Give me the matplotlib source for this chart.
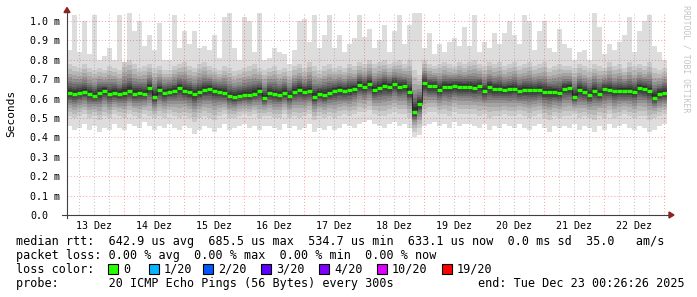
import numpy as np
import matplotlib
matplotlib.use("Agg")
import matplotlib.pyplot as plt
from matplotlib.patches import Rectangle, Polygon
from matplotlib.lines import Line2D

# smokeping data, 2h steps, values in ms (20 pings per step)
median_ms = [
    0.63, 0.625, 0.63, 0.635, 0.625, 0.615, 0.63, 0.64, 0.625, 0.63, 0.625, 0.63, 0.64, 0.625, 0.63, 0.625, 0.655, 0.61, 0.645, 0.63,
    0.635, 0.64, 0.655, 0.64, 0.635, 0.625, 0.635, 0.645, 0.65, 0.64, 0.635, 0.63, 0.615, 0.61, 0.615, 0.62, 0.62, 0.625, 0.64, 0.605,
    0.63, 0.625, 0.62, 0.63, 0.615, 0.635, 0.645, 0.635, 0.64, 0.61, 0.625, 0.62, 0.63, 0.64, 0.645, 0.64, 0.645, 0.65, 0.67, 0.66,
    0.675, 0.645, 0.655, 0.665, 0.66, 0.675, 0.66, 0.665, 0.635, 0.53, 0.57, 0.68, 0.665, 0.665, 0.645, 0.66, 0.66, 0.665, 0.66, 0.66,
    0.66, 0.655, 0.665, 0.64, 0.66, 0.65, 0.65, 0.645, 0.648, 0.652, 0.64, 0.645, 0.645, 0.642, 0.645, 0.635, 0.635, 0.632, 0.63, 0.652,
    0.655, 0.61, 0.645, 0.635, 0.62, 0.64, 0.625, 0.65, 0.645, 0.637, 0.64, 0.64, 0.64, 0.635, 0.655, 0.65, 0.64, 0.605, 0.625, 0.63,
]
max_ms = [
    0.85, 1.03, 0.84, 1.0, 0.83, 1.03, 0.80, 0.82, 0.86, 0.80, 1.03, 0.78, 1.04, 0.95, 1.0, 0.87, 0.93, 0.85, 0.99, 0.80,
    0.80, 1.03, 0.86, 0.95, 0.88, 0.95, 0.86, 0.87, 0.85, 0.93, 0.81, 1.02, 1.04, 0.86, 0.80, 1.02, 1.0, 0.84, 1.04, 0.80,
    0.81, 0.86, 0.84, 0.83, 0.78, 0.85, 1.0, 1.01, 0.89, 1.03, 0.86, 0.93, 1.03, 0.86, 0.93, 0.84, 0.88, 0.91, 1.03, 0.92,
    0.96, 0.86, 0.90, 0.98, 0.84, 0.95, 1.03, 0.88, 0.98, 1.04, 1.04, 0.86, 0.94, 0.83, 0.88, 0.84, 0.89, 0.91, 0.87, 0.97,
    0.87, 1.03, 0.84, 0.89, 0.86, 0.94, 0.88, 0.94, 1.0, 0.93, 0.88, 1.03, 1.0, 0.85, 0.95, 1.0, 0.86, 0.84, 0.96, 0.88,
    0.86, 0.80, 0.84, 0.85, 0.80, 1.04, 0.97, 0.83, 0.88, 0.85, 0.89, 0.93, 1.02, 0.84, 0.95, 1.0, 1.03, 0.87, 0.84, 0.80,
]
min_ms = [
    0.46, 0.44, 0.45, 0.47, 0.44, 0.46, 0.43, 0.45, 0.44, 0.47, 0.45, 0.44, 0.47, 0.46, 0.45, 0.48, 0.46, 0.44, 0.46, 0.45,
    0.47, 0.45, 0.44, 0.46, 0.45, 0.42, 0.44, 0.46, 0.45, 0.43, 0.45, 0.47, 0.44, 0.45, 0.46, 0.47, 0.45, 0.46, 0.44, 0.46,
    0.46, 0.45, 0.44, 0.47, 0.45, 0.46, 0.44, 0.45, 0.47, 0.43, 0.45, 0.44, 0.46, 0.44, 0.45, 0.47, 0.46, 0.45, 0.47, 0.48,
    0.49, 0.47, 0.46, 0.45, 0.47, 0.48, 0.46, 0.47, 0.45, 0.40, 0.41, 0.46, 0.47, 0.48, 0.46, 0.47, 0.45, 0.48, 0.46, 0.47,
    0.47, 0.46, 0.45, 0.47, 0.44, 0.46, 0.45, 0.47, 0.46, 0.45, 0.47, 0.45, 0.44, 0.46, 0.47, 0.45, 0.43, 0.46, 0.45, 0.46,
    0.45, 0.47, 0.44, 0.46, 0.45, 0.43, 0.46, 0.44, 0.47, 0.45, 0.46, 0.47, 0.45, 0.44, 0.46, 0.45, 0.43, 0.44, 0.46, 0.47,
]
# 2nd lowest and 2nd highest ping
p2_ms = [
    0.51, 0.50, 0.51, 0.52, 0.50, 0.51, 0.49, 0.51, 0.50, 0.52, 0.51, 0.50, 0.52, 0.51, 0.50, 0.52, 0.51, 0.50, 0.51, 0.50,
    0.52, 0.51, 0.50, 0.51, 0.50, 0.48, 0.50, 0.51, 0.50, 0.49, 0.51, 0.52, 0.50, 0.50, 0.51, 0.52, 0.51, 0.52, 0.50, 0.51,
    0.51, 0.50, 0.50, 0.52, 0.50, 0.51, 0.50, 0.51, 0.52, 0.49, 0.51, 0.50, 0.51, 0.50, 0.51, 0.52, 0.51, 0.52, 0.53, 0.53,
    0.54, 0.52, 0.51, 0.51, 0.52, 0.53, 0.52, 0.52, 0.50, 0.43, 0.45, 0.52, 0.53, 0.53, 0.52, 0.52, 0.51, 0.53, 0.52, 0.52,
    0.52, 0.52, 0.51, 0.52, 0.50, 0.51, 0.51, 0.52, 0.51, 0.51, 0.52, 0.51, 0.50, 0.51, 0.52, 0.50, 0.49, 0.51, 0.50, 0.51,
    0.51, 0.52, 0.50, 0.51, 0.50, 0.49, 0.51, 0.50, 0.52, 0.50, 0.51, 0.52, 0.51, 0.50, 0.51, 0.51, 0.49, 0.50, 0.51, 0.52,
]
p19_ms = [
    0.78, 0.77, 0.76, 0.78, 0.76, 0.75, 0.76, 0.75, 0.77, 0.76, 0.75, 0.79, 0.80, 0.78, 0.76, 0.77, 0.78, 0.76, 0.77, 0.75,
    0.75, 0.77, 0.78, 0.79, 0.77, 0.76, 0.78, 0.79, 0.77, 0.76, 0.75, 0.77, 0.76, 0.74, 0.75, 0.76, 0.77, 0.78, 0.76, 0.75,
    0.76, 0.77, 0.75, 0.76, 0.74, 0.77, 0.78, 0.76, 0.79, 0.77, 0.75, 0.77, 0.78, 0.76, 0.77, 0.76, 0.78, 0.77, 0.79, 0.78,
    0.80, 0.78, 0.79, 0.80, 0.78, 0.79, 0.80, 0.78, 0.80, 0.75, 0.72, 0.80, 0.78, 0.77, 0.78, 0.79, 0.78, 0.77, 0.79, 0.78,
    0.79, 0.80, 0.78, 0.77, 0.79, 0.78, 0.79, 0.77, 0.78, 0.79, 0.77, 0.78, 0.79, 0.77, 0.78, 0.79, 0.76, 0.77, 0.78, 0.77,
    0.77, 0.76, 0.78, 0.77, 0.76, 0.78, 0.77, 0.76, 0.79, 0.77, 0.78, 0.76, 0.79, 0.77, 0.78, 0.77, 0.79, 0.76, 0.75, 0.76,
]

day_labels = ["13 Dez", "14 Dez", "15 Dez", "16 Dez", "17 Dez", "18 Dez", "19 Dez", "20 Dez", "21 Dez", "22 Dez"]
y_ticks = [0.0, 0.1, 0.2, 0.3, 0.4, 0.5, 0.6, 0.7, 0.8, 0.9, 1.0]
y_labels = ["0.0", "0.1 m", "0.2 m", "0.3 m", "0.4 m", "0.5 m", "0.6 m", "0.7 m", "0.8 m", "0.9 m", "1.0 m"]
loss_labels = ["0", "1/20", "2/20", "3/20", "4/20", "10/20", "19/20"]
loss_colors = ["#26ff00", "#00b8ff", "#0059ff", "#5e00ff", "#7e00ff", "#dd00ff", "#ff0000"]

MONO = "DejaVu Sans Mono"
W, H = 697, 297
fig = plt.figure(figsize=(W / 100, H / 100), dpi=100)
fig.patch.set_facecolor("white")

def fx(x):
    return x / W

def fy(y):
    return 1 - y / H

ymax = 1.04
ax = fig.add_axes([fx(67), fy(215), 600 / W, ymax * 194 / H])
ax.set_xlim(13.05, 23.05)
ax.set_ylim(0, ymax)
for s in ax.spines.values():
    s.set_visible(False)

med = np.array(median_ms)
n = len(med)
edges = 13.05 + np.arange(n + 1) / 12.0

def ext(a):
    a = np.asarray(a)
    return np.append(a, a[-1])

# smoke: outer band min..max, then nested bands toward the median
ax.fill_between(edges, ext(min_ms), ext(max_ms), step="post", color="#dddddd", lw=0, antialiased=False, zorder=1)
frac = [1.0, 0.82, 0.66, 0.53, 0.42, 0.33, 0.25, 0.18, 0.11]
p2 = np.array(p2_ms)
p19 = np.array(p19_ms)
for k, f in zip(range(2, 11), frac):
    c = int(190 / 10 * (10 - k)) + 50
    lo = med - f * (med - p2)
    hi = med + f * (p19 - med)
    ax.fill_between(edges, ext(lo), ext(hi), step="post", color="#%02x%02x%02x" % (c, c, c),
                    lw=0, antialiased=False, zorder=1)

# grid
for q in np.arange(13.25, 23.06, 0.25):
    if abs(q - round(q)) > 1e-6:
        ax.axvline(q, color=(0.5, 0.5, 0.5, 0.45), lw=0.75, ls=(0, (1, 2)), zorder=3)
for d in range(14, 24):
    ax.axvline(d, color=(1, 0, 0, 0.35), lw=0.75, ls=(0, (1, 2)), zorder=3)
for v in y_ticks[1:]:
    ax.axhline(v, color=(1, 0, 0, 0.35), lw=0.75, ls=(0, (1, 2)), zorder=3)

# median line
ax.step(edges, ext(med), where="post", color="#202020", lw=0.6, zorder=4)
ax.hlines(med, edges[:-1], edges[1:], color="#26ff00", lw=2.4, zorder=5)

ax.set_xticks(np.arange(13.5, 23, 1.0))
ax.set_xticklabels(day_labels, fontsize=7.2, family=MONO)
ax.set_yticks(y_ticks)
ax.set_yticklabels(y_labels, fontsize=7.2, family=MONO)
ax.tick_params(axis="x", length=0, pad=4.5)
ax.tick_params(axis="y", length=0, pad=26.5)
for lbl in ax.get_yticklabels():
    lbl.set_horizontalalignment("left")

# axes lines and arrows
axis_col = "#404040"
arrow_col = "#902020"
fig.add_artist(Line2D([fx(62), fx(669)], [fy(215), fy(215)], color=axis_col, lw=0.8))
fig.add_artist(Line2D([fx(67), fx(67)], [fy(218), fy(12)], color=axis_col, lw=0.8))
fig.add_artist(Polygon([(fx(64), fy(12.5)), (fx(70), fy(12.5)), (fx(67), fy(7.5))], closed=True,
                       color=arrow_col, transform=fig.transFigure))
fig.add_artist(Polygon([(fx(669), fy(212)), (fx(669), fy(218)), (fx(674), fy(215))], closed=True,
                       color=arrow_col, transform=fig.transFigure))

fig.text(fx(11), fy(113.5), "Seconds", rotation=90, ha="center", va="center", fontsize=8, family=MONO)
fig.text(fx(686), fy(5), "RRDTOOL / TOBI OETIKER", rotation=270, ha="center", va="top",
         fontsize=5.9, family=MONO, color="#c4c4c4")

# legend
fs = 8.5
fig.text(fx(16), fy(241.5), "median rtt:  642.9 us avg  685.5 us max  534.7 us min  633.1 us now  0.0 ms sd  35.0   am/s",
         ha="left", va="center", fontsize=fs, family=MONO)
fig.text(fx(16), fy(255.5), "packet loss: 0.00 % avg  0.00 % max  0.00 % min  0.00 % now",
         ha="left", va="center", fontsize=fs, family=MONO)
fig.text(fx(16), fy(269.5), "loss color:", ha="left", va="center", fontsize=fs, family=MONO)
sw_x = [108, 149, 203, 261, 319, 377, 442]
for x0, lab, col in zip(sw_x, loss_labels, loss_colors):
    fig.add_artist(Rectangle((fx(x0), fy(274)), 10 / W, 10 / H, facecolor=col, edgecolor="black",
                             lw=0.8, transform=fig.transFigure))
    fig.text(fx(x0 + 15), fy(269.5), lab, ha="left", va="center", fontsize=fs, family=MONO)
fig.text(fx(16), fy(283.5), "probe:       20 ICMP Echo Pings (56 Bytes) every 300s",
         ha="left", va="center", fontsize=fs, family=MONO)
fig.text(fx(478), fy(283.5), "end: Tue Dec 23 00:26:26 2025", ha="left", va="center", fontsize=fs, family=MONO)

fig.savefig("out.png", dpi=100, facecolor="white")
